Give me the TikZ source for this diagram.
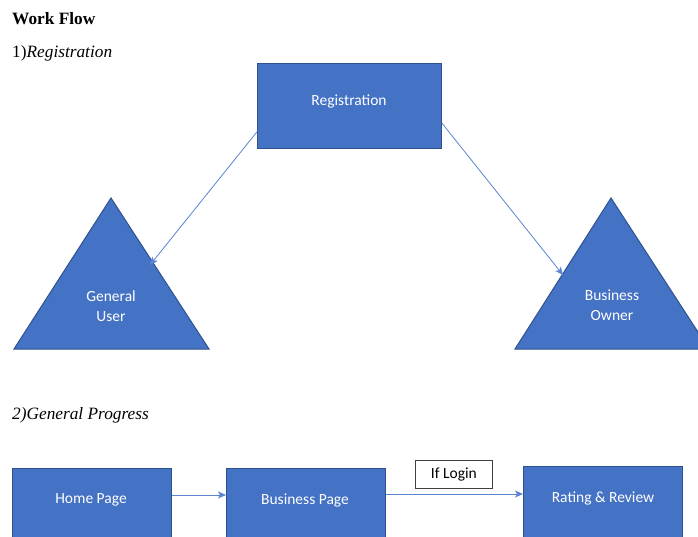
\documentclass[tikz,border=0pt]{standalone}
\usepackage{fontspec}
\setmainfont{Liberation Serif}
\newfontfamily\calib{Carlito}
\usetikzlibrary{arrows.meta,calc}
\definecolor{bfill}{HTML}{4472C4}
\definecolor{bdraw}{HTML}{2F528F}
\definecolor{lineblue}{HTML}{5B85D0}
\tikzset{
  blockbox/.style={draw=bdraw,fill=bfill,line width=1pt,inner sep=0pt,anchor=north west},
  boxtext/.style={text=white,font=\calib\fontsize{15.5}{18}\selectfont,inner sep=0pt},
  conn/.style={draw=lineblue,line width=0.8pt,-{Stealth[length=8pt,width=7pt,inset=2pt]}},
  heading/.style={anchor=base west,inner sep=0pt,font=\fontsize{17.3}{20}\selectfont}
}
\begin{document}
\begin{tikzpicture}[x=1pt,y=-1pt]
\clip (0,0) rectangle (698,537);
\fill[white] (0,0) rectangle (698,537);
\node[heading,font=\bfseries\fontsize{17.3}{20}\selectfont] (title) at (12,24.5) {Work Flow};
\node[heading] (sec1) at (12,57.5) {1)\textit{Registration}};
\node[heading] (sec2) at (12,419) {\textit{2)General Progress}};
% Registration
\node[blockbox,minimum width=184pt,minimum height=85pt] (reg) at (257,63) {};
\node[boxtext] (regt) at (349,101) {Registration};
% triangles
\draw[draw=bdraw,fill=bfill,line width=1pt] (111,198) -- (209,349) -- (14,349) -- cycle;
\draw[draw=bdraw,fill=bfill,line width=1pt] (611,198) -- (709,349) -- (515,349) -- cycle;
\node[boxtext,align=center] (gu) at (111,306) {General\\[2pt]User};
\node[boxtext,align=center] (bo) at (612,305) {Business\\[2pt]Owner};
\coordinate (guend) at (150,265);
\coordinate (boend) at (563,275);
\draw[conn] ($(reg.south west)!0.2!(reg.north west)$) -- (guend);
\draw[conn] ($(reg.south east)!0.3!(reg.north east)$) -- (boend);
% bottom row
\node[blockbox,minimum width=159pt,minimum height=100pt] (hp) at (12,468) {};
\node[blockbox,minimum width=159pt,minimum height=100pt] (bp) at (226,468) {};
\node[blockbox,minimum width=159pt,minimum height=100pt] (rr) at (523,466) {};
\node[boxtext] (hpt) at (91,500) {Home Page};
\node[boxtext] (bpt) at (305,500) {Business Page};
\node[boxtext] (rrt) at (603,498) {Rating \& Review};
\node[draw=black!75,fill=white,line width=0.8pt,minimum width=77pt,minimum height=28pt,inner sep=0pt,anchor=north west,font=\calib\fontsize{15.5}{18}\selectfont] (login) at (415,460) {If Login};
\draw[conn] ($(hp.north east)+(0,27)$) -- ($(bp.north west)+(0,27)$);
\draw[conn] ($(bp.north east)+(0,26)$) -- ($(rr.north west)+(0,28)$);
\end{tikzpicture}
\end{document}
